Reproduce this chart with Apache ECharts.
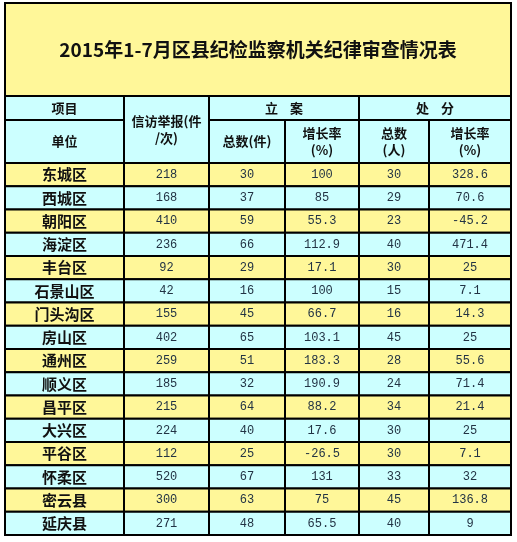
<!DOCTYPE html>
<html>
<head>
<meta charset="utf-8">
<script src="https://cdn.jsdelivr.net/npm/echarts@6/dist/echarts.min.js"></script>
<style>html,body{margin:0;padding:0;background:#fff}#chart{width:517px;height:542px}</style>
</head>
<body>
<div id="chart"></div>
<script>
const title = '2015年1-7月区县纪检监察机关纪律审查情况表'
const units = ['东城区', '西城区', '朝阳区', '海淀区', '丰台区', '石景山区', '门头沟区', '房山区',
  '通州区', '顺义区', '昌平区', '大兴区', '平谷区', '怀柔区', '密云县', '延庆县']
const petitions = [218, 168, 410, 236, 92, 42, 155, 402, 259, 185, 215, 224, 112, 520, 300, 271]
const caseTotal = [30, 37, 59, 66, 29, 16, 45, 65, 51, 32, 64, 40, 25, 67, 63, 48]
const caseGrowth = ['100', '85', '55.3', '112.9', '17.1', '100', '66.7', '103.1', '183.3', '190.9', '88.2', '17.6', '-26.5', '131', '75', '65.5']
const punishTotal = [30, 29, 23, 40, 30, 15, 16, 45, 28, 24, 34, 30, 30, 33, 45, 40]
const punishGrowth = ['328.6', '70.6', '-45.2', '471.4', '25', '7.1', '14.3', '25', '55.6', '71.4', '21.4', '25', '7.1', '32', '136.8', '9']

// layout (pixel units on hidden value axes)
const colEdges = [0, 119, 204, 280, 354, 424, 506]
const titleTop = 0, h1Top = 93, h2Top = 117, bodyTop = 160, rowH = 23.25
const yellow = '#fff799', cyan = '#ccffff'

const cells = []
const add = (c0, c1, y0, y1, text, fill, kind) => cells.push([c0, c1, y0, y1, text, fill, kind])
add(0, 6, titleTop, h1Top, title, yellow, 'title')
add(0, 1, h1Top, h2Top, '项目', cyan, 'head')
add(1, 2, h1Top, bodyTop, '信访举报(件\n/次)', cyan, 'head')
add(2, 4, h1Top, h2Top, '立    案', cyan, 'head')
add(4, 6, h1Top, h2Top, '处    分', cyan, 'head')
add(0, 1, h2Top, bodyTop, '单位', cyan, 'head')
add(2, 3, h2Top, bodyTop, '总数(件)', cyan, 'head')
add(3, 4, h2Top, bodyTop, '增长率\n(%)', cyan, 'head')
add(4, 5, h2Top, bodyTop, '总数\n(人)', cyan, 'head')
add(5, 6, h2Top, bodyTop, '增长率\n(%)', cyan, 'head')
units.forEach((u, i) => {
  const y0 = bodyTop + i * rowH, y1 = y0 + rowH
  const fill = i % 2 === 0 ? yellow : cyan
  const vals = [u, petitions[i], caseTotal[i], caseGrowth[i], punishTotal[i], punishGrowth[i]]
  vals.forEach((v, c) => add(c, c + 1, y0, y1, String(v), fill, c === 0 ? 'name' : 'num'))
})

const fonts = {
  title: { fontSize: 19, fontWeight: 'bold', fontFamily: 'Noto Sans CJK SC', fill: '#111' },
  head: { fontSize: 13, fontWeight: 'bold', fontFamily: 'Noto Sans CJK SC', fill: '#111', lineHeight: 17 },
  name: { fontSize: 15, fontWeight: 'bold', fontFamily: 'Noto Sans CJK SC', fill: '#111' },
  num: { fontSize: 12, fontWeight: 'normal', fontFamily: 'Liberation Mono', fill: '#223344' }
}

const chart = echarts.init(document.getElementById('chart'))
chart.setOption({
  animation: false,
  grid: { left: 5, top: 3, width: 506, height: 532 },
  xAxis: { type: 'value', min: 0, max: 506, show: false },
  yAxis: { type: 'value', min: 0, max: 532, inverse: true, show: false },
  series: [{
    type: 'custom',
    data: cells,
    renderItem: (params, api) => {
      const c = cells[params.dataIndex]
      const p0 = api.coord([colEdges[c[0]], c[2]])
      const p1 = api.coord([colEdges[c[1]], c[3]])
      const f = fonts[c[6]]
      return {
        type: 'group',
        children: [
          { type: 'rect', shape: { x: p0[0], y: p0[1], width: p1[0] - p0[0], height: p1[1] - p0[1] },
            style: { fill: c[5], stroke: '#000', lineWidth: 2 } },
          { type: 'text', x: (p0[0] + p1[0]) / 2, y: (p0[1] + p1[1]) / 2,
            style: Object.assign({ text: c[4], align: 'center', verticalAlign: 'middle' }, f) }
        ]
      }
    }
  }]
})
</script>
</body>
</html>
